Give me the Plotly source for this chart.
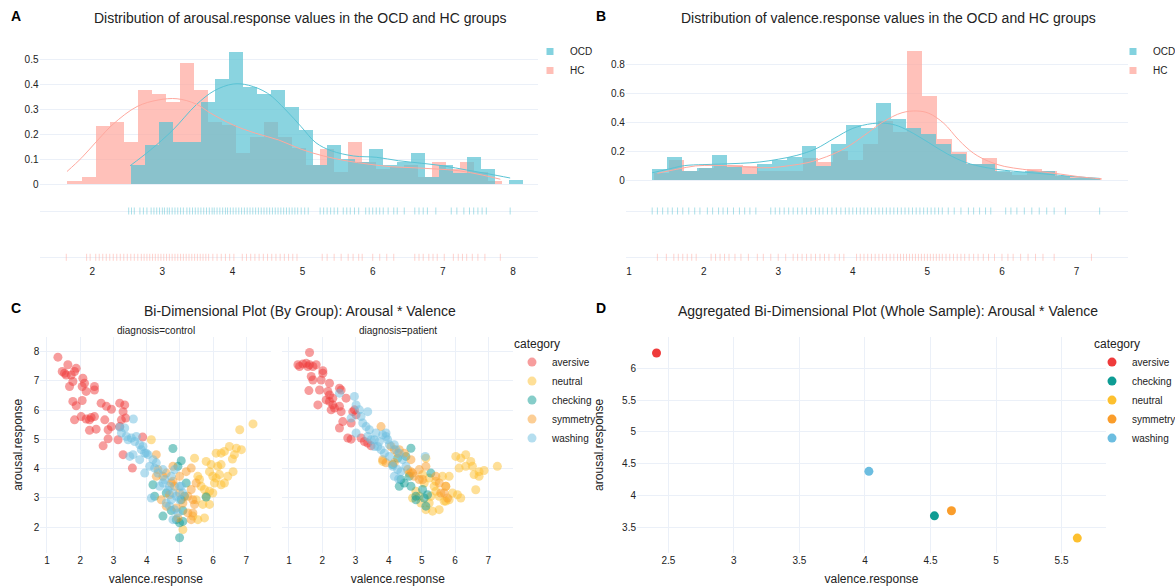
import plotly.graph_objects as go

W, H = 1175, 586

# ---------------- Panel A data: arousal.response ----------------
a_ocd_bin_left = [2.54, 2.74, 2.94, 3.14, 3.34, 3.54, 3.74, 3.94, 4.14, 4.34, 4.54, 4.74, 4.94, 5.14,
                  5.34, 5.54, 5.74, 5.94, 6.14, 6.34, 6.54, 6.74, 6.94, 7.14, 7.34, 7.54, 7.74, 7.94]
a_ocd_density = [0.077, 0.156, 0.248, 0.17, 0.17, 0.33, 0.42, 0.53, 0.39, 0.36, 0.375, 0.31, 0.217, 0.077,
                 0.155, 0.1, 0.09, 0.139, 0.077, 0.09, 0.124, 0.03, 0.075, 0.045, 0.108, 0.062, 0.0, 0.015]
a_hc_bin_left = [1.64, 1.84, 2.04, 2.24, 2.44, 2.64, 2.84, 3.04, 3.24, 3.44, 3.64, 3.84, 4.04, 4.24, 4.44, 4.64,
                 4.84, 5.04, 5.24, 5.44, 5.64, 5.84, 6.04, 6.24, 6.44, 6.64, 6.84, 7.04, 7.24, 7.44, 7.64]
a_hc_density = [0.013, 0.03, 0.233, 0.248, 0.17, 0.375, 0.36, 0.33, 0.485, 0.375, 0.25, 0.235, 0.125, 0.19,
                0.25, 0.19, 0.145, 0.077, 0.139, 0.05, 0.17, 0.09, 0.06, 0.07, 0.075, 0.03, 0.09, 0.06, 0.09,
                0.05, 0.013]
a_ocd_kde_x = [2.54, 2.83, 3.15, 3.48, 3.74, 4.01, 4.23, 4.5, 4.76, 4.98, 5.19, 5.41, 5.73, 6.05, 6.37, 6.7,
               7.02, 7.34, 7.66, 7.96]
a_ocd_kde_y = [0.073, 0.136, 0.216, 0.316, 0.373, 0.4, 0.395, 0.363, 0.296, 0.229, 0.165, 0.133, 0.112, 0.107,
               0.093, 0.083, 0.072, 0.056, 0.04, 0.024]
a_hc_kde_x = [1.64, 1.85, 2.08, 2.3, 2.64, 2.94, 3.21, 3.48, 3.69, 4.01, 4.33, 4.66, 4.98, 5.3, 5.62, 5.95,
              6.27, 6.59, 6.91, 7.23, 7.56, 7.82]
a_hc_kde_y = [0.05, 0.105, 0.176, 0.24, 0.31, 0.336, 0.341, 0.32, 0.283, 0.236, 0.203, 0.176, 0.139, 0.112,
              0.093, 0.079, 0.069, 0.065, 0.06, 0.053, 0.036, 0.019]
a_ocd_rug = [2.52, 2.56, 2.6, 2.68, 2.73, 2.78, 2.84, 2.88, 2.92, 2.96, 3.0, 3.03, 3.07, 3.1, 3.14, 3.18, 3.22,
             3.26, 3.3, 3.35, 3.39, 3.43, 3.47, 3.51, 3.55, 3.59, 3.63, 3.67, 3.71, 3.74, 3.78, 3.82, 3.86, 3.9,
             3.93, 3.97, 4.01, 4.05, 4.09, 4.13, 4.17, 4.21, 4.25, 4.29, 4.33, 4.37, 4.41, 4.45, 4.49, 4.53,
             4.57, 4.61, 4.65, 4.69, 4.73, 4.77, 4.81, 4.85, 4.89, 4.93, 4.98, 5.03, 5.08, 5.25, 5.3, 5.35, 5.4,
             5.45, 5.5, 5.58, 5.63, 5.68, 5.74, 5.8, 5.9, 5.95, 6.0, 6.05, 6.1, 6.15, 6.22, 6.3, 6.35, 6.45, 6.6,
             6.66, 6.72, 6.78, 6.9, 7.12, 7.2, 7.3, 7.38, 7.44, 7.5, 7.56, 7.62, 7.96]
a_hc_rug = [1.63, 1.92, 1.97, 2.05, 2.1, 2.15, 2.2, 2.25, 2.3, 2.35, 2.4, 2.45, 2.5, 2.55, 2.6, 2.65, 2.7, 2.74,
            2.78, 2.82, 2.86, 2.9, 2.94, 2.98, 3.02, 3.06, 3.1, 3.14, 3.18, 3.22, 3.26, 3.3, 3.34, 3.38, 3.42,
            3.46, 3.5, 3.54, 3.58, 3.62, 3.66, 3.72, 3.78, 3.84, 3.9, 3.96, 4.02, 4.14, 4.2, 4.26, 4.32, 4.38,
            4.44, 4.5, 4.56, 4.62, 4.68, 4.74, 4.8, 4.86, 4.92, 5.28, 5.35, 5.45, 5.55, 5.65, 5.72, 5.8, 5.85,
            6.0, 6.1, 6.2, 6.3, 6.6, 6.66, 6.72, 6.8, 6.86, 6.92, 7.02, 7.15, 7.22, 7.28, 7.34, 7.42, 7.5, 7.6,
            7.82]

# ---------------- Panel B data: valence.response ----------------
b_ocd_bin_left = [1.31, 1.51, 1.71, 1.91, 2.11, 2.31, 2.51, 2.71, 2.91, 3.11, 3.31, 3.51, 3.71, 3.91, 4.11,
                  4.31, 4.51, 4.71, 4.91, 5.11, 5.31, 5.51, 5.71, 5.91, 6.11, 6.31, 6.51, 6.71, 6.91, 7.11]
b_ocd_density = [0.076, 0.156, 0.062, 0.08, 0.172, 0.092, 0.039, 0.108, 0.138, 0.161, 0.234, 0.1, 0.248, 0.377,
                 0.36, 0.53, 0.42, 0.356, 0.315, 0.248, 0.177, 0.11, 0.11, 0.06, 0.057, 0.062, 0.06, 0.03,
                 0.015, 0.008]
b_hc_bin_left = [1.33, 1.53, 1.73, 1.93, 2.13, 2.33, 2.53, 2.73, 2.93, 3.13, 3.33, 3.53, 3.73, 3.93, 4.13,
                 4.33, 4.53, 4.73, 4.93, 5.13, 5.33, 5.53, 5.73, 5.93, 6.13, 6.33, 6.53, 6.73, 6.93, 7.13]
b_hc_density = [0.05, 0.14, 0.065, 0.08, 0.1, 0.104, 0.095, 0.06, 0.062, 0.06, 0.15, 0.122, 0.2, 0.14, 0.25,
                0.41, 0.33, 0.89, 0.58, 0.28, 0.19, 0.11, 0.154, 0.057, 0.035, 0.075, 0.06, 0.03, 0.02, 0.012]
b_ocd_kde_x = [1.31, 1.48, 1.74, 1.99, 2.24, 2.49, 2.75, 3.0, 3.25, 3.5, 3.75, 4.0, 4.26, 4.46, 4.61, 4.81,
               5.02, 5.27, 5.52, 5.77, 6.03, 6.28, 6.53, 6.78, 7.03, 7.31]
b_ocd_kde_y = [0.05, 0.069, 0.099, 0.106, 0.11, 0.115, 0.124, 0.143, 0.17, 0.214, 0.287, 0.356, 0.389, 0.39,
               0.372, 0.322, 0.257, 0.179, 0.12, 0.087, 0.067, 0.055, 0.044, 0.032, 0.021, 0.011]
b_hc_kde_x = [1.38, 1.64, 1.89, 2.14, 2.39, 2.64, 2.9, 3.15, 3.4, 3.65, 3.91, 4.16, 4.41, 4.66, 4.86, 5.02,
              5.22, 5.42, 5.62, 5.82, 6.03, 6.28, 6.53, 6.78, 7.03, 7.34]
b_hc_kde_y = [0.046, 0.074, 0.097, 0.101, 0.097, 0.087, 0.085, 0.099, 0.12, 0.161, 0.223, 0.31, 0.402, 0.464,
              0.476, 0.46, 0.391, 0.276, 0.184, 0.129, 0.094, 0.074, 0.057, 0.041, 0.023, 0.007]
b_ocd_rug = [1.31, 1.38, 1.45, 1.52, 1.58, 1.65, 1.72, 1.8, 1.88, 1.95, 2.05, 2.12, 2.2, 2.26, 2.32, 2.4, 2.48,
             2.55, 2.62, 2.7, 2.9, 2.96, 3.02, 3.08, 3.14, 3.2, 3.26, 3.32, 3.38, 3.44, 3.5, 3.55, 3.6, 3.66,
             3.72, 3.78, 3.84, 3.9, 3.95, 4.0, 4.05, 4.1, 4.15, 4.2, 4.25, 4.3, 4.35, 4.4, 4.45, 4.5, 4.55, 4.6,
             4.65, 4.7, 4.75, 4.8, 4.85, 4.9, 4.95, 5.0, 5.05, 5.1, 5.15, 5.2, 5.28, 5.36, 5.45, 5.55, 5.62,
             5.7, 5.78, 5.85, 6.05, 6.12, 6.2, 6.3, 6.4, 6.5, 6.6, 6.7, 6.85, 7.31]
b_hc_rug = [1.38, 1.5, 1.6, 1.66, 1.72, 1.78, 1.84, 1.9, 2.1, 2.16, 2.22, 2.28, 2.34, 2.42, 2.5, 2.6, 2.72, 2.8,
            2.9, 3.0, 3.1, 3.2, 3.26, 3.32, 3.38, 3.44, 3.5, 3.56, 3.62, 3.68, 3.76, 3.82, 3.88, 4.05, 4.1,
            4.15, 4.2, 4.25, 4.3, 4.35, 4.4, 4.45, 4.5, 4.55, 4.6, 4.64, 4.68, 4.72, 4.76, 4.8, 4.84, 4.88,
            4.92, 4.96, 5.0, 5.04, 5.08, 5.12, 5.16, 5.2, 5.25, 5.3, 5.35, 5.4, 5.45, 5.5, 5.56, 5.62, 5.68,
            5.75, 5.82, 5.9, 6.0, 6.08, 6.15, 6.25, 6.35, 6.45, 6.55, 6.7, 7.2]

# ---------------- Panel C data: by group ----------------
categories_c = ["aversive", "neutral", "checking", "symmetry", "washing"]
ctrl_x = {
    "aversive": [1.33, 1.46, 1.53, 1.63, 1.58, 1.73, 1.78, 1.68, 1.88, 1.83, 2.08, 2.06, 2.13, 2.18, 2.43, 2.43,
                 1.78, 1.88, 2.06, 1.83, 2.03, 2.18, 2.28, 2.33, 2.43, 2.28, 2.48, 2.63, 2.79, 2.94, 2.74, 2.84,
                 2.94, 3.19, 3.34, 3.29, 3.37, 3.24, 2.69, 2.84, 3.29, 3.57, 3.14, 3.19, 3.88],
    "neutral": [4.14, 5.44, 5.79, 6.09, 6.24, 6.34, 6.49, 6.7, 6.85, 6.64, 6.58, 6.8, 7.2, 5.94, 6.14, 6.24, 5.89,
                5.99, 6.19, 6.44, 6.04, 6.24, 6.34, 5.89, 5.99, 5.79, 5.89, 5.69, 5.54, 5.64, 5.59, 5.74, 5.54,
                5.09, 5.39, 5.74, 5.49, 6.09, 6.6],
    "checking": [4.79, 5.04, 4.19, 4.24, 4.49, 4.99, 4.99, 5.09, 5.14, 5.19, 5.79, 4.89, 5.09, 4.74, 5.04, 4.59,
                 4.94],
    "symmetry": [4.29, 4.34, 4.49, 4.59, 4.74, 4.79, 4.84, 4.69, 4.59, 4.89, 5.09, 5.24, 5.34, 5.39, 5.24, 5.34,
                 5.44, 5.39, 4.79, 4.99, 5.49, 4.99, 4.44, 4.29, 5.34, 5.19, 4.94],
    "washing": [3.19, 3.34, 3.24, 3.44, 3.39, 3.54, 3.64, 3.69, 3.79, 3.84, 3.89, 3.99, 4.04, 3.94, 3.59, 3.49,
                3.79, 3.94, 4.09, 4.24, 4.34, 4.49, 4.54, 4.49, 4.39, 4.14, 4.64, 4.79, 4.74, 4.59, 4.69, 4.84,
                4.94, 4.79, 4.99, 4.89, 4.69, 4.99, 5.09, 4.84, 4.74, 5.04, 4.19, 4.29, 3.6],
}
ctrl_y = {
    "aversive": [7.81, 7.32, 7.26, 7.55, 7.2, 7.2, 6.98, 6.81, 7.43, 7.32, 7.09, 6.81, 6.92, 6.64, 6.81, 6.69,
                 6.3, 6.15, 6.33, 5.67, 5.78, 5.7, 5.67, 5.75, 5.78, 5.31, 5.35, 6.24, 6.13, 6.03, 5.67, 5.33,
                 5.44, 6.24, 6.18, 5.95, 5.73, 5.67, 4.78, 5.02, 4.48, 4.02, 4.99, 5.44, 5.08],
    "neutral": [4.99, 4.36, 4.25, 4.53, 4.53, 4.59, 4.76, 4.7, 4.65, 4.48, 4.33, 5.33, 5.53, 4.14, 4.08, 4.14,
                3.9, 3.74, 3.8, 3.74, 3.51, 3.45, 3.51, 3.23, 3.17, 3.06, 2.78, 2.78, 3.74, 3.4, 3.63, 2.32,
                2.26, 1.92, 2.38, 3.29, 2.94, 3.68, 3.9],
    "checking": [4.69, 4.27, 3.45, 3.06, 2.38, 2.15, 1.64, 2.57, 3.06, 3.51, 3.03, 2.26, 2.2, 2.57, 2.94, 3.17,
                 4.08],
    "symmetry": [4.48, 3.97, 3.74, 3.85, 3.51, 3.57, 3.4, 3.11, 2.72, 2.66, 2.83, 3.06, 3.29, 2.94, 2.49, 2.26,
                 2.78, 2.49, 4.08, 3.74, 3.51, 3.17, 2.94, 3.74, 4.02, 3.9, 2.32],
    "washing": [5.42, 5.39, 5.22, 4.99, 5.1, 5.05, 4.93, 5.1, 4.82, 4.65, 4.76, 4.53, 4.48, 4.53, 4.48, 4.42,
                4.31, 3.85, 4.08, 4.02, 3.85, 3.97, 3.63, 3.51, 3.4, 3.0, 3.26, 3.17, 2.94, 2.83, 2.72, 2.6,
                2.49, 2.26, 2.94, 3.06, 3.4, 3.4, 3.17, 3.97, 3.74, 3.4, 4.31, 4.2, 5.7],
}
pat_x = {
    "aversive": [1.62, 1.27, 1.32, 1.42, 1.52, 1.62, 1.57, 1.72, 1.82, 1.67, 1.72, 2.02, 2.02, 1.97, 2.22, 1.92,
                 1.6, 1.87, 2.17, 2.22, 2.12, 2.22, 2.32, 2.52, 2.57, 2.27, 2.37, 2.52, 2.57, 2.72, 2.92, 2.62,
                 2.52, 2.77, 2.87, 2.97, 3.27, 3.37, 3.17, 3.02, 2.87, 3.47, 2.32],
    "neutral": [6.02, 6.17, 6.32, 6.12, 6.32, 6.47, 6.52, 6.57, 6.72, 6.87, 6.62, 7.27, 6.72, 5.22, 5.42, 5.62,
                5.82, 5.72, 5.42, 5.27, 5.52, 5.67, 5.82, 6.07, 6.17, 5.92, 4.92, 4.97, 5.12, 5.32, 5.52, 4.72,
                4.82, 5.22, 5.37, 5.07, 5.02, 5.72, 4.62, 3.82, 5.12],
    "checking": [4.67, 4.27, 4.12, 4.37, 4.32, 4.67, 4.82, 5.02, 5.07, 5.17, 5.27, 5.12, 4.82, 4.62, 4.52, 4.47],
    "symmetry": [3.77, 4.72, 4.67, 4.77, 4.57, 4.92, 4.47, 4.32, 4.07, 3.82, 3.92, 4.17, 4.92, 5.02, 5.42, 5.52,
                 5.72, 5.67, 5.77, 5.57, 5.12, 4.67, 4.27, 4.17],
    "washing": [2.52, 2.97, 3.02, 3.12, 3.37, 3.17, 2.87, 3.02, 3.22, 3.32, 3.42, 3.37, 3.57, 3.67, 3.72, 3.82,
                3.92, 3.97, 3.77, 3.87, 4.02, 4.17, 4.22, 4.12, 4.17, 4.27, 4.42, 4.52, 4.37, 3.57, 4.02, 4.32,
                3.47, 3.62, 3.92, 5.1, 4.3],
}
pat_y = {
    "aversive": [7.97, 7.55, 7.49, 7.58, 7.6, 7.55, 7.49, 7.49, 7.55, 7.15, 7.03, 7.35, 7.26, 7.03, 6.92, 6.69,
                 6.67, 6.18, 6.64, 6.52, 6.35, 6.3, 6.41, 6.75, 6.69, 6.01, 6.07, 6.13, 5.95, 6.41, 5.95, 5.61,
                 5.39, 5.05, 5.01, 6.01, 4.93, 4.88, 5.05, 5.84, 5.56, 4.78, 6.18],
    "neutral": [4.42, 4.36, 4.48, 4.02, 4.08, 4.25, 4.08, 3.8, 3.74, 3.94, 3.28, 4.08, 3.9, 3.68, 3.57, 3.74,
                3.74, 3.4, 3.23, 3.06, 3.06, 2.89, 2.94, 3.11, 3.0, 3.17, 3.06, 2.83, 2.6, 2.55, 2.6, 3.0, 3.23,
                2.83, 3.4, 3.51, 3.8, 2.89, 3.85, 4.25, 4.36],
    "checking": [4.7, 4.36, 4.14, 3.63, 3.4, 3.4, 3.06, 3.29, 3.0, 3.11, 3.85, 2.72, 2.94, 3.74, 4.42, 3.51],
    "symmetry": [5.44, 3.85, 3.9, 3.74, 3.97, 3.97, 4.53, 4.65, 4.76, 4.31, 4.2, 4.2, 3.63, 3.63, 3.74, 3.51, 3.4,
                 3.17, 3.0, 3.17, 4.08, 4.31, 4.53, 4.65],
    "washing": [6.58, 6.47, 6.18, 6.01, 5.95, 5.78, 5.73, 5.22, 5.56, 5.44, 5.33, 5.1, 4.99, 4.76, 4.93, 5.16,
                5.1, 4.99, 4.65, 4.53, 4.42, 4.82, 4.65, 4.08, 3.74, 3.97, 4.31, 4.08, 3.9, 4.76, 4.82, 4.53,
                4.99, 5.22, 5.22, 4.42, 3.65],
}

# ---------------- Panel D data: aggregated means ----------------
categories_d = ["aversive", "checking", "neutral", "symmetry", "washing"]
mean_valence = [2.41, 4.53, 5.62, 4.66, 4.03]
mean_arousal = [6.24, 3.68, 3.33, 3.76, 4.38]

# ---------------- styles ----------------
OCD_COLOR = "rgb(90,195,212)"
HC_COLOR = "rgb(255,168,158)"
CAT_COLORS = {"aversive": "#EF3B3B", "neutral": "#FDC02F", "checking": "#0E9C94",
              "symmetry": "#FA9D2B", "washing": "#6CBDE0"}
FONT = "Liberation Sans, Arial, sans-serif"
TXT = "#222222"
GRID = "#EBF0F8"


def fx(p):
    """view x pixel -> paper fraction"""
    return p / W


def fy(p):
    """view y pixel -> paper fraction"""
    return 1 - p / H


fig = go.Figure()


def add_distplot(xa, ya_hist, ya_rug, legend, ocd_left, ocd_d, hc_left, hc_d,
                 ocd_kx, ocd_ky, hc_kx, hc_ky, ocd_rug, hc_rug):
    # HC first so the OCD histogram sits on top (as in the reference)
    fig.add_trace(go.Bar(x=hc_left, y=hc_d, width=0.2, offset=0, marker=dict(color=HC_COLOR, line_width=0),
                         opacity=0.7, xaxis=xa, yaxis=ya_hist, showlegend=False, name="HC"))
    fig.add_trace(go.Bar(x=ocd_left, y=ocd_d, width=0.2, offset=0, marker=dict(color=OCD_COLOR, line_width=0),
                         opacity=0.7, xaxis=xa, yaxis=ya_hist, showlegend=False, name="OCD"))
    fig.add_trace(go.Scatter(x=ocd_kx, y=ocd_ky, mode="lines", line=dict(color=OCD_COLOR, width=1, shape="spline"),
                             xaxis=xa, yaxis=ya_hist, showlegend=False, hoverinfo="skip"))
    fig.add_trace(go.Scatter(x=hc_kx, y=hc_ky, mode="lines", line=dict(color=HC_COLOR, width=1, shape="spline"),
                             xaxis=xa, yaxis=ya_hist, showlegend=False, hoverinfo="skip"))
    fig.add_trace(go.Scatter(x=ocd_rug, y=["OCD"] * len(ocd_rug), mode="markers",
                             marker=dict(symbol="line-ns-open", size=5, color=OCD_COLOR, opacity=0.5,
                                         line=dict(width=1, color=OCD_COLOR)),
                             xaxis=xa, yaxis=ya_rug, showlegend=False))
    fig.add_trace(go.Scatter(x=hc_rug, y=["HC"] * len(hc_rug), mode="markers",
                             marker=dict(symbol="line-ns-open", size=5, color=HC_COLOR, opacity=0.5,
                                         line=dict(width=1, color=HC_COLOR)),
                             xaxis=xa, yaxis=ya_rug, showlegend=False))
    for nm, col in (("OCD", OCD_COLOR), ("HC", HC_COLOR)):
        fig.add_trace(go.Scatter(x=[None], y=[None], mode="markers", name=nm,
                                 marker=dict(symbol="square", size=7, color=col, opacity=0.75),
                                 xaxis=xa, yaxis=ya_hist, legend=legend))


add_distplot("x", "y", "y2", "legend", a_ocd_bin_left, a_ocd_density, a_hc_bin_left, a_hc_density,
             a_ocd_kde_x, a_ocd_kde_y, a_hc_kde_x, a_hc_kde_y, a_ocd_rug, a_hc_rug)
add_distplot("x2", "y3", "y4", "legend2", b_ocd_bin_left, b_ocd_density, b_hc_bin_left, b_hc_density,
             b_ocd_kde_x, b_ocd_kde_y, b_hc_kde_x, b_hc_kde_y, b_ocd_rug, b_hc_rug)

# Panel C
for cat in categories_c:
    fig.add_trace(go.Scatter(x=ctrl_x[cat], y=ctrl_y[cat], mode="markers", name=cat, legendgroup=cat,
                             marker=dict(color=CAT_COLORS[cat], size=9, opacity=0.5),
                             xaxis="x3", yaxis="y5", legend="legend3", showlegend=True))
    fig.add_trace(go.Scatter(x=pat_x[cat], y=pat_y[cat], mode="markers", name=cat, legendgroup=cat,
                             marker=dict(color=CAT_COLORS[cat], size=9, opacity=0.5),
                             xaxis="x4", yaxis="y6", legend="legend3", showlegend=False))

# Panel D
for i, cat in enumerate(categories_d):
    fig.add_trace(go.Scatter(x=[mean_valence[i]], y=[mean_arousal[i]], mode="markers", name=cat,
                             marker=dict(color=CAT_COLORS[cat], size=9),
                             xaxis="x5", yaxis="y7", legend="legend4"))

tickfont = dict(family=FONT, size=10, color=TXT)
axtitle = dict(family=FONT, size=12, color=TXT)


def hist_y(top_px, bot_px, zero_px, px_per_unit, dtick):
    return dict(domain=[fy(bot_px), fy(top_px)],
                range=[-(bot_px - zero_px) / px_per_unit, (zero_px - top_px) / px_per_unit],
                showgrid=True, gridcolor=GRID, zeroline=False, tickfont=tickfont, dtick=dtick,
                showline=False, ticks="", automargin=False)


def rug_y(top_px, bot_px, ocd_px, hc_px):
    unit = hc_px - ocd_px
    return dict(domain=[fy(bot_px), fy(top_px)], type="category", categoryorder="array",
                categoryarray=["HC", "OCD"],
                range=[-(bot_px - hc_px) / unit, 1 + (ocd_px - top_px) / unit],
                showticklabels=False, showgrid=True, gridcolor=GRID, zeroline=False, ticks="",
                automargin=False)


common_x = dict(zeroline=False, tickfont=tickfont, automargin=False)

layout = dict(
    width=W, height=H, margin=dict(l=0, r=0, t=0, b=0, autoexpand=False),
    template="plotly_white", paper_bgcolor="white", plot_bgcolor="white",
    font=dict(family=FONT, size=10, color=TXT),
    barmode="overlay", bargap=0,
    # Panel A
    xaxis=dict(domain=[fx(39.5), fx(538)], range=[1.248, 8.357], anchor="y2", dtick=1, tick0=0,
               showgrid=False, ticks="", **common_x),
    yaxis=dict(anchor="x", **hist_y(45, 190, 184, 250, 0.1)),
    yaxis2=dict(anchor="x", **rug_y(200, 264, 211, 257.3)),
    # Panel B
    xaxis2=dict(domain=[fx(625.8), fx(1128)], range=[0.956, 7.69], anchor="y4", dtick=1, tick0=0,
                showgrid=False, ticks="", **common_x),
    yaxis3=dict(anchor="x2", **hist_y(45, 190, 180, 145, 0.2)),
    yaxis4=dict(anchor="x2", **rug_y(200, 264, 211, 257.3)),
    # Panel C
    xaxis3=dict(domain=[fx(40.3), fx(271.3)], range=[0.8, 7.75], anchor="y5", dtick=1, tick0=0,
                showgrid=True, gridcolor=GRID, title=dict(text="valence.response", font=axtitle, standoff=9),
                **common_x),
    xaxis4=dict(domain=[fx(282.3), fx(513.3)], range=[0.8, 7.75], anchor="y6", dtick=1, tick0=0,
                showgrid=True, gridcolor=GRID, title=dict(text="valence.response", font=axtitle, standoff=9),
                **common_x),
    yaxis5=dict(domain=[fy(553), fy(336.7)], range=[1.12, 8.51], anchor="x3", dtick=1, tick0=0,
                showgrid=True, gridcolor=GRID, title=dict(text="arousal.response", font=axtitle, standoff=8),
                **common_x),
    yaxis6=dict(domain=[fy(553), fy(336.7)], range=[1.12, 8.51], anchor="x4", dtick=1, tick0=0,
                matches="y5", showticklabels=False, showgrid=True, gridcolor=GRID, zeroline=False,
                automargin=False),
    # Panel D
    xaxis5=dict(domain=[fx(637), fx(1106)], range=[2.261, 5.839], anchor="y7", dtick=0.5, tick0=0,
                showgrid=True, gridcolor=GRID, title=dict(text="valence.response", font=axtitle, standoff=9),
                **common_x),
    yaxis7=dict(domain=[fy(553), fy(336.7)], range=[3.096, 6.497], anchor="x5", dtick=0.5, tick0=0,
                showgrid=True, gridcolor=GRID, title=dict(text="arousal.response", font=axtitle, standoff=15),
                **common_x),
    legend=dict(x=fx(530), y=fy(37), xanchor="left", yanchor="top", font=dict(size=10),
                bgcolor="rgba(0,0,0,0)", itemwidth=30, tracegroupgap=0),
    legend2=dict(x=fx(1113), y=fy(37), xanchor="left", yanchor="top", font=dict(size=10),
                 bgcolor="rgba(0,0,0,0)", itemwidth=30, tracegroupgap=0),
    legend3=dict(x=fx(512), y=fy(332), xanchor="left", yanchor="top", font=dict(size=10),
                 title=dict(text="category", font=dict(size=12)), bgcolor="rgba(0,0,0,0)", itemwidth=30,
                 tracegroupgap=0),
    legend4=dict(x=fx(1092), y=fy(332), xanchor="left", yanchor="top", font=dict(size=10),
                 title=dict(text="category", font=dict(size=12)), bgcolor="rgba(0,0,0,0)", itemwidth=30,
                 tracegroupgap=0),
)
fig.update_layout(**layout)

# titles, panel letters, facet labels (positions in view pixels)
texts = [
    ("Distribution of arousal.response values in the OCD and HC groups", 300, 18.3, 14, False),
    ("Distribution of valence.response values in the OCD and HC groups", 888, 18.3, 14, False),
    ("Bi-Dimensional Plot (By Group): Arousal * Valence", 300, 311, 14, False),
    ("Aggregated Bi-Dimensional Plot (Whole Sample): Arousal * Valence", 888, 311, 14, False),
    ("A", 15.8, 15.7, 14, True), ("B", 601, 15.7, 14, True),
    ("C", 15.8, 308.3, 14, True), ("D", 601, 308.3, 14, True),
    ("diagnosis=control", 155.8, 330.7, 10, False), ("diagnosis=patient", 397.8, 330.7, 10, False),
]
for t, x, y, s, bold in texts:
    fig.add_annotation(text=f"<b>{t}</b>" if bold else t, x=fx(x), y=fy(y), xref="paper", yref="paper",
                       xanchor="center", yanchor="middle", showarrow=False,
                       font=dict(family=FONT, size=s, color="#000000" if bold else TXT))

# the figure is exactly the window size, so drop the page's default body margin; hide the modebar
fig.write_html("out.html", config={"displayModeBar": False},
               post_script="document.body.style.margin='0px';")
